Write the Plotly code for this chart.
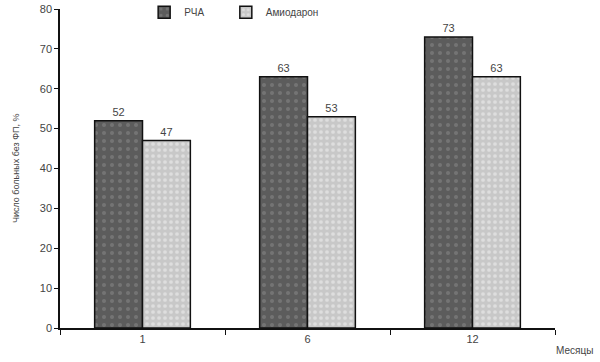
import plotly.graph_objects as go

months = ["1", "6", "12"]
rfa = [52, 63, 73]
amio = [47, 53, 63]
rfa_labels = ["52", "63", "73"]
amio_labels = ["47", "53", "63"]
series_names = ["РЧА", "Амиодарон"]
y_ticks = [0, 10, 20, 30, 40, 50, 60, 70, 80]

fig = go.Figure()
fig.add_trace(go.Bar(
    x=months, y=rfa, name=series_names[0], text=rfa_labels,
    textposition="outside", cliponaxis=False, legend="legend",
    textfont=dict(size=11, color="#444"),
    marker=dict(color="#5c5c5c", line=dict(color="#111", width=1.5),
                pattern=dict(shape=".", fgcolor="#8c8c8c", bgcolor="#5c5c5c", size=8, solidity=0.2)),
))
fig.add_trace(go.Bar(
    x=months, y=amio, name=series_names[1], text=amio_labels,
    textposition="outside", cliponaxis=False, legend="legend2",
    textfont=dict(size=11, color="#444"),
    marker=dict(color="#cfcfcf", line=dict(color="#111", width=1.5),
                pattern=dict(shape=".", fgcolor="#f4f4f4", bgcolor="#c8c8c8", size=6, solidity=0.3)),
))

legend_common = dict(orientation="h", y=0.99, xanchor="left", yanchor="middle",
                     font=dict(size=10, color="#444"), bgcolor="rgba(0,0,0,0)",
                     itemwidth=30)

fig.update_layout(
    width=600, height=362,
    margin=dict(l=60, r=45, t=9, b=34, autoexpand=False),
    paper_bgcolor="white", plot_bgcolor="white",
    barmode="group", bargap=0.42, bargroupgap=0,
    font=dict(family="Liberation Sans, Arial, sans-serif", size=11, color="#444"),
    showlegend=True,
    legend=dict(x=0.17, **legend_common),
    legend2=dict(x=0.335, **legend_common),
    xaxis=dict(type="category", showline=True, linecolor="#111", linewidth=1.5,
               ticks="outside", tickson="boundaries", ticklen=5, tickcolor="#111",
               showgrid=False, tickfont=dict(size=11, color="#444")),
    yaxis=dict(range=[0, 80], tickvals=y_ticks, showline=True, linecolor="#111", linewidth=1.5,
               ticks="outside", ticklen=4, tickcolor="#111", showgrid=False, zeroline=False,
               tickfont=dict(size=11, color="#444")),
    annotations=[
        dict(text="Число больных без ФП, %", textangle=-90, xref="paper", yref="paper",
             x=-0.104, y=0.5, showarrow=False, font=dict(size=9, color="#444")),
        dict(text="Месяцы", xref="paper", yref="paper", x=1.04, y=-0.07,
             xanchor="center", yanchor="middle", showarrow=False, font=dict(size=10, color="#444")),
    ],
)

fig.write_html("out.html")
